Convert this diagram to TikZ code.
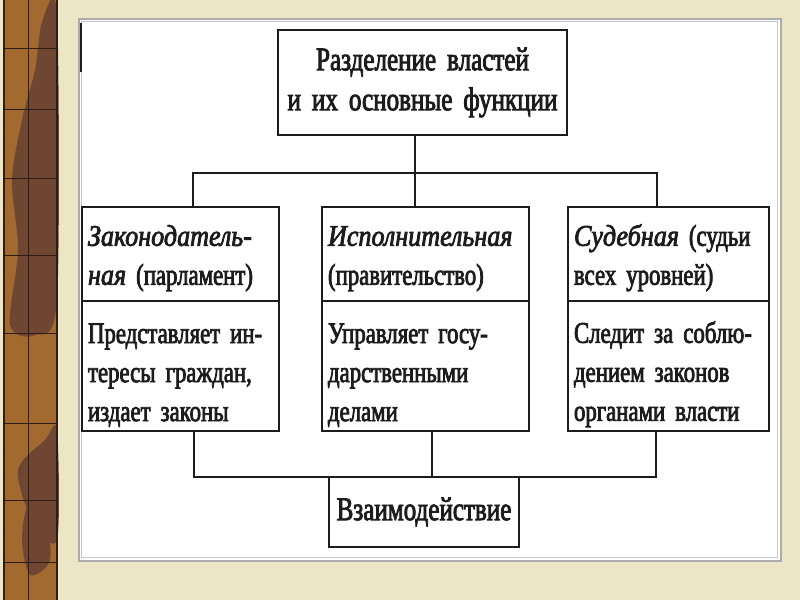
\documentclass[tikz,border=0pt]{standalone}
\usepackage{fontspec}
\setmainfont{Liberation Serif}[FakeStretch=0.76, FakeBold=2.5, ItalicFeatures={FakeStretch=0.87, FakeBold=2.5}]
\usetikzlibrary{calc, positioning}

\definecolor{paper}{HTML}{EDE6C6}
\definecolor{leather}{HTML}{A26A2E}
\definecolor{stain}{HTML}{6E4632}
\definecolor{seam}{HTML}{2E1D14}
\definecolor{ink}{HTML}{1C1C1C}

% one line stretched to the full text width
\newcommand{\fullline}[1]{\makebox[\hsize][s]{#1}}

\begin{document}
\begin{tikzpicture}[
        x=1pt, y=-1pt,
        box/.style={draw=ink, line width=2pt, outer sep=0pt, inner xsep=6pt, inner ysep=2pt, align=left, text=ink, font=\fontsize{30}{39}\selectfont},
        head/.style={box, minimum height=94pt, execute at begin node={\rule{0pt}{29pt}}},
        body/.style={box, minimum height=130pt, execute at begin node={\rule{0pt}{38pt}}},
        link/.style={draw=ink, line width=2pt}
    ]
    \useasboundingbox (0,0) rectangle (800,600);

    % фон
    \fill[paper] (0,0) rectangle (800,600);
    \fill[leather] (4,0) rectangle (57,600);
    \fill[stain] plot[smooth cycle] coordinates {(42,22) (57,15) (57,300) (35,335) (10,325) (18,250) (12,180) (22,120) (35,70)};
    \fill[stain] plot[smooth cycle] coordinates {(45,440) (57,430) (57,540) (32,520) (18,470)};
    \fill[stain] plot[smooth cycle] coordinates {(28,505) (45,510) (50,560) (30,575) (22,540)};
    \draw[seam, line width=1.2pt] (4,0) -- (4,600) (57,0) -- (57,600);
    \draw[seam, line width=0.6pt] (28,0) -- (28,600);
    \foreach \y in {48,109,178,255,333,423,500,562}
        \draw[seam, line width=0.6pt] (4,\y) -- (57,\y);

    % белое поле
    \fill[gray!65] (78,18) rectangle (782,562);
    \fill[white] (80,20) rectangle (780,560);
    \draw[gray!45, line width=1pt] (81.5,21.5) rectangle (777.5,557.5);
    \draw[ink, line width=1.5pt] (81,23) -- (81,72);

    % заголовок
    \node[box, align=center, text width=277pt, minimum height=105pt, font=\fontsize{33}{40}\selectfont, anchor=north west] (title) at (278,30) {Разделение властей\\и их основные функции};

    % три ветви
    \node[head, text width=185pt, anchor=north west] (legH) at (82,207) {\textit{Законодатель-}\\\fullline{\textit{ная} (парламент)}};
    \node[body, text width=185pt, below=0pt of legH] (legB) {\fullline{Представляет ин-}\\\fullline{тересы граждан,}\\издает законы};

    \node[head, text width=195pt, anchor=north west] (exeH) at (322,207) {\textit{Исполнительная}\\(правительство)};
    \node[body, text width=195pt, below=0pt of exeH] (exeB) {\fullline{Управляет госу-}\\дарственными\\делами};

    \node[head, text width=189pt, anchor=north west] (judH) at (568,207) {\fullline{\textit{Судебная} (судьи}\\всех уровней)};
    \node[body, text width=189pt, below=0pt of judH] (judB) {\fullline{Следит за соблю-}\\\fullline{дением законов}\\\fullline{органами власти}};

    % итог
    \node[box, align=center, minimum width=190pt, minimum height=70pt, font=\fontsize{33}{40}\selectfont, anchor=north west] (inter) at (329,477) {Взаимодействие};

    % связи
    \coordinate (busL) at (193,173);
    \coordinate (busM) at (415,173);
    \coordinate (busR) at (657,173);
    \coordinate (joinL) at (194,477);
    \coordinate (joinM) at (432,477);
    \coordinate (joinR) at (656,477);

    \draw[link] (title.south -| busM) -- (exeH.north -| busM);
    \draw[link] (legH.north -| busL) -- (busL) -- (busR) -- (judH.north -| busR);
    \draw[link] (legB.south -| joinL) -- (joinL) -- (joinR) -- (judB.south -| joinR);
    \draw[link] (exeB.south -| joinM) -- (joinM);

\end{tikzpicture}
\end{document}
